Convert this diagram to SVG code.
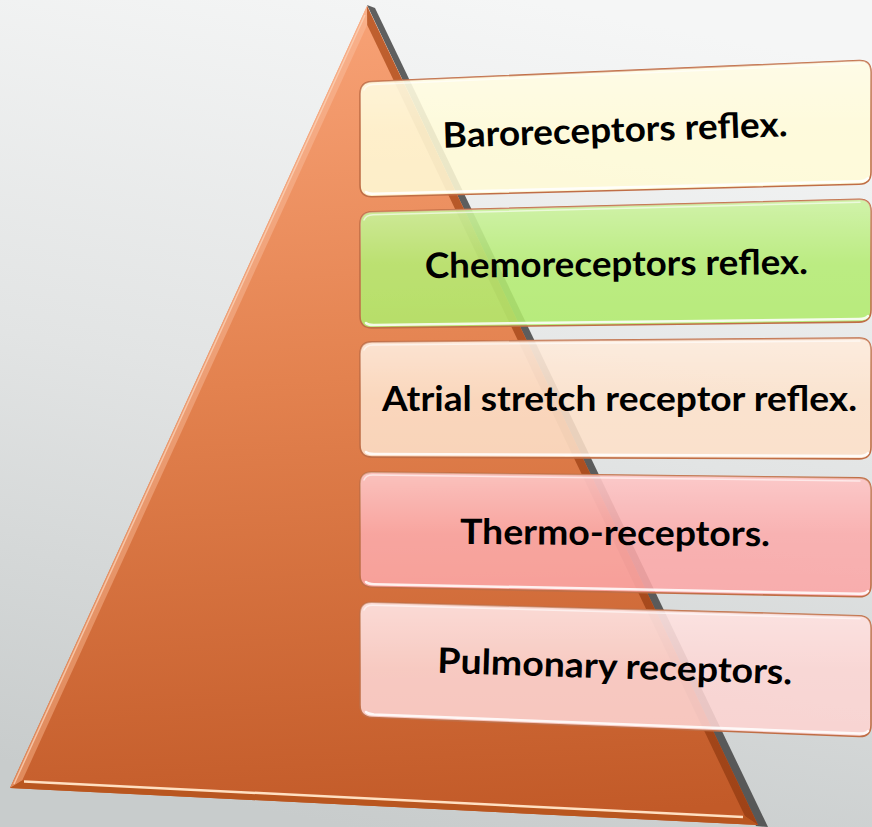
<svg xmlns="http://www.w3.org/2000/svg" width="872" height="827" viewBox="0 0 872 827">
  <defs>
    <linearGradient id="bg" x1="0.6" y1="0" x2="0.4" y2="1">
      <stop offset="0" stop-color="#f5f6f6"/>
      <stop offset="0.5" stop-color="#e2e4e4"/>
      <stop offset="1" stop-color="#c8cccc"/>
    </linearGradient>
    <linearGradient id="tri" gradientUnits="userSpaceOnUse" x1="367" y1="6" x2="420" y2="825">
      <stop offset="0" stop-color="#f8a276"/>
      <stop offset="0.45" stop-color="#e3824f"/>
      <stop offset="1" stop-color="#c25a28"/>
    </linearGradient>
    <linearGradient id="triL" gradientUnits="userSpaceOnUse" x1="367" y1="6" x2="10" y2="788">
      <stop offset="0" stop-color="#f9b08a"/>
      <stop offset="1" stop-color="#e08a5c"/>
    </linearGradient>
    <linearGradient id="triR" gradientUnits="userSpaceOnUse" x1="367" y1="6" x2="758" y2="825">
      <stop offset="0" stop-color="#c0602f"/>
      <stop offset="1" stop-color="#9e4216"/>
    </linearGradient>
    <linearGradient id="gloss" x1="0" y1="0" x2="0" y2="1">
      <stop offset="0" stop-color="#ffffff" stop-opacity="0.35"/>
      <stop offset="0.5" stop-color="#ffffff" stop-opacity="0.05"/>
      <stop offset="1" stop-color="#ffffff" stop-opacity="0"/>
    </linearGradient>
    <style>
      .box { stroke: #c06e46; stroke-width: 1.6; fill-opacity: 0.88; }
      .gl { fill: url(#gloss); }
      .hl { fill: none; stroke: #ffffff; stroke-width: 2.5; stroke-opacity: 0.85; stroke-linecap: round; }
      .hlt { fill: none; stroke: #ffffff; stroke-width: 1.5; stroke-opacity: 0.6; stroke-linecap: round; }
      .lbl { font-family: Lato, "Open Sans", "Liberation Sans", sans-serif; font-weight: bold; font-size: 35px; fill: #000000; text-anchor: middle; }
    </style>
  </defs>

  <rect x="0" y="0" width="872" height="827" fill="url(#bg)"/>

  <g id="pyramid">
    <polygon points="367,5 375,8 768,827 756,826" fill="#3a3a3a" fill-opacity="0.8"/>
    <polygon points="367,6 10,788 758,825" fill="url(#tri)"/>
    <polygon points="367,6 10,788 22.2,780.6 367.2,24.9" fill="url(#triL)"/>
    <polygon points="367,6 367.2,24.9 745,816.3 758,825" fill="url(#triR)"/>
    <polygon points="10,788 758,825 745,816.3 22.2,780.6" fill="#b9561f"/>
    <line x1="24" y1="781.5" x2="743" y2="817" stroke="#ffe0c2" stroke-width="2.5"/>
    <line x1="14" y1="784" x2="365" y2="15" stroke="#fbd0b4" stroke-width="1.5" stroke-opacity="0.8"/>
  </g>

  <g id="node1">
    <path class="box" fill="#fffad6" d="M372,81.5 L859,60.5 Q871,60 871,72 L871,172 Q871,184 859,184.3 L372,196.7 Q360,197 360,185 L360,94 Q360,82 372,81.5 Z"/>
    <path class="gl" d="M372,81.5 L859,60.5 Q871,60 871,72 L871,172 Q871,184 859,184.3 L372,196.7 Q360,197 360,185 L360,94 Q360,82 372,81.5 Z"/>
    <path class="hl" d="M366,192 Q368,194 374,193.7 L859,181.3 Q866,181 868,178"/>
    <path class="hlt" d="M364,90 Q366,85 373,84.5 L860,63.5"/>
    <text class="lbl" x="615.5" y="142" textLength="345" lengthAdjust="spacingAndGlyphs" transform="rotate(-1.9 615.5 142)">Baroreceptors reflex.</text>
  </g>

  <g id="node2">
    <path class="box" fill="#b0ea6c" d="M372,211.7 L859,199.3 Q871,199 871,211 L871,310 Q871,322 859,322.1 L372,327.9 Q360,328 360,316 L360,224 Q360,212 372,211.7 Z"/>
    <path class="gl" d="M372,211.7 L859,199.3 Q871,199 871,211 L871,310 Q871,322 859,322.1 L372,327.9 Q360,328 360,316 L360,224 Q360,212 372,211.7 Z"/>
    <path class="hl" d="M366,323 Q368,325 374,324.9 L859,319.1 Q866,319 868,316"/>
    <path class="hlt" d="M364,220 Q366,215 373,214.7 L860,202.3"/>
    <text class="lbl" x="616.5" y="276" textLength="383" lengthAdjust="spacingAndGlyphs" transform="rotate(-0.6 616.5 276)">Chemoreceptors reflex.</text>
  </g>

  <g id="node3">
    <path class="box" fill="#fde0c8" d="M372,341.9 L859,338.1 Q871,338 871,350 L871,447 Q871,459 859,458.9 L372,457.1 Q360,457 360,445 L360,354 Q360,342 372,341.9 Z"/>
    <path class="gl" d="M372,341.9 L859,338.1 Q871,338 871,350 L871,447 Q871,459 859,458.9 L372,457.1 Q360,457 360,445 L360,354 Q360,342 372,341.9 Z"/>
    <path class="hl" d="M366,452 Q368,454 374,454.1 L859,455.9 Q866,456 868,453"/>
    <path class="hlt" d="M364,350 Q366,345 373,344.9 L860,341.1"/>
    <text class="lbl" x="619.5" y="411" textLength="475" lengthAdjust="spacingAndGlyphs">Atrial stretch receptor reflex.</text>
  </g>

  <g id="node4">
    <path class="box" fill="#fca6a6" d="M372,472.1 L859,477.9 Q871,478 871,490 L871,585 Q871,597 859,596.8 L372,587.2 Q360,587 360,575 L360,484 Q360,472 372,472.1 Z"/>
    <path class="gl" d="M372,472.1 L859,477.9 Q871,478 871,490 L871,585 Q871,597 859,596.8 L372,587.2 Q360,587 360,575 L360,484 Q360,472 372,472.1 Z"/>
    <path class="hl" d="M366,582 Q368,584 374,584.2 L859,593.8 Q866,594 868,591"/>
    <path class="hlt" d="M364,480 Q366,475 373,475.1 L860,480.9"/>
    <text class="lbl" x="615" y="545" textLength="310" lengthAdjust="spacingAndGlyphs" transform="rotate(0.4 615 545)">Thermo-receptors.</text>
  </g>

  <g id="node5">
    <path class="box" fill="#fdd4d2" d="M372,602.3 L859,615.7 Q871,616 871,628 L871,725 Q871,737 859,736.5 L372,717.5 Q360,717 360,705 L360,614 Q360,602 372,602.3 Z"/>
    <path class="gl" d="M372,602.3 L859,615.7 Q871,616 871,628 L871,725 Q871,737 859,736.5 L372,717.5 Q360,717 360,705 L360,614 Q360,602 372,602.3 Z"/>
    <path class="hl" d="M366,712 Q368,714 374,714.5 L859,733.5 Q866,734 868,731"/>
    <path class="hlt" d="M364,610 Q366,605 373,605.3 L860,618.7"/>
    <text class="lbl" x="614.5" y="678.5" textLength="355" lengthAdjust="spacingAndGlyphs" transform="rotate(1.85 614.5 678.5)">Pulmonary receptors.</text>
  </g>

  <g id="connectors"></g>
</svg>
